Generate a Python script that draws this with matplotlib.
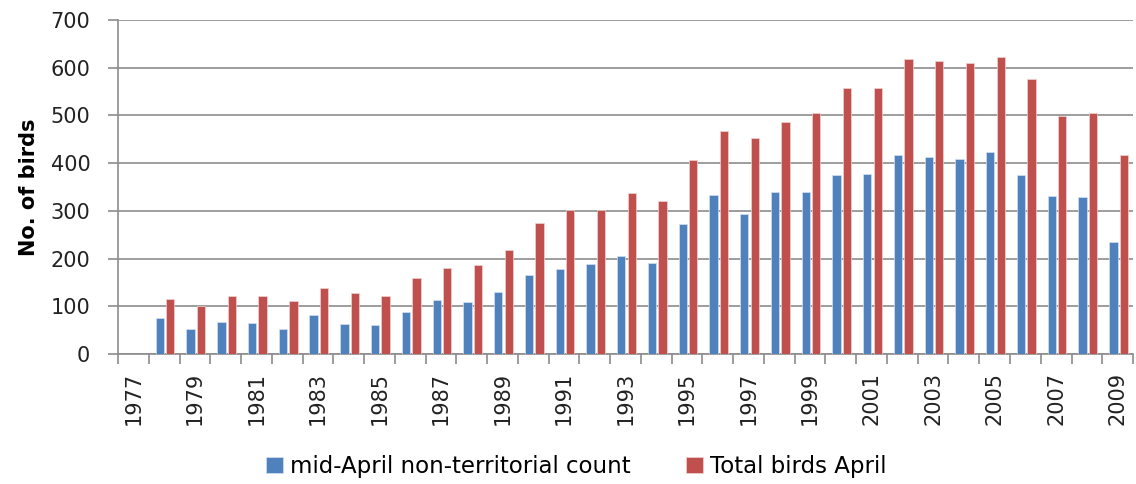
import matplotlib
matplotlib.use("Agg")
import matplotlib.pyplot as plt
import numpy as np

years = list(range(1977, 2010))
non_territorial = [np.nan, 76, 52, 68, 65, 52, 82, 63, 60, 89, 114, 108, 130, 165, 178, 189,
                   205, 191, 272, 334, 293, 339, 339, 375, 377, 417, 412, 409, 423, 375, 331, 328, 235]
total_april = [np.nan, 116, 100, 122, 122, 111, 138, 127, 122, 159, 181, 186, 219, 275, 301, 301,
               337, 321, 406, 468, 453, 487, 506, 557, 557, 619, 614, 609, 622, 576, 498, 506, 417]
series_names = ["mid-April non-territorial count", "Total birds April"]
colors = ["#4F81BD", "#C0504D"]
yticks = [0, 100, 200, 300, 400, 500, 600, 700]

plt.rcParams['font.family'] = ['DejaVu Sans']

fig = plt.figure(figsize=(11.36, 4.84), dpi=100)
ax = fig.add_axes([0.1039, 0.2686, 0.8935, 0.6901])

x = np.arange(len(years))
w = 0.27
ax.bar(x - 0.14, non_territorial, width=w, color=colors[0], edgecolor="#D6E0EE",
       linewidth=0.5, label=series_names[0], zorder=3)
ax.bar(x + 0.20, total_april, width=w, color=colors[1], edgecolor="#EED3D2",
       linewidth=0.5, label=series_names[1], zorder=3)

ax.set_xlim(-0.5, len(years) - 0.5)
ax.set_ylim(0, 700)
ax.set_yticks(yticks)
ax.set_yticklabels([str(v) for v in yticks], fontsize=15, color="#222222")
ax.yaxis.grid(True, color="#8C8C8C", linewidth=1.2, zorder=0)
ax.set_axisbelow(True)

# x ticks: marks at category boundaries, labels at every other category center
ax.set_xticks(np.arange(-0.5, len(years), 1.0))
ax.set_xticklabels([])
ax.set_xticks(x[::2], minor=True)
ax.set_xticklabels([str(y) for y in years[::2]], minor=True, rotation=90,
                   fontsize=15, color="#222222")
ax.tick_params(axis='x', which='minor', length=0, pad=13)
ax.tick_params(axis='x', which='major', length=7, width=1.2, color="#8C8C8C")
ax.tick_params(axis='y', length=7, width=1.2, color="#8C8C8C", pad=13)

for s in ["top", "right"]:
    ax.spines[s].set_visible(False)
for s in ["left", "bottom"]:
    ax.spines[s].set_color("#8C8C8C")
    ax.spines[s].set_linewidth(1.2)

ax.set_ylabel("No. of birds", fontsize=15, fontweight="bold", labelpad=8)

fig.legend(loc="lower center", bbox_to_anchor=(0.507, -0.03), ncol=2, frameon=False,
           fontsize=16.5, handlelength=0.75, handleheight=0.75, handletextpad=0.3,
           columnspacing=2.4)

fig.savefig("out.png", dpi=100)
